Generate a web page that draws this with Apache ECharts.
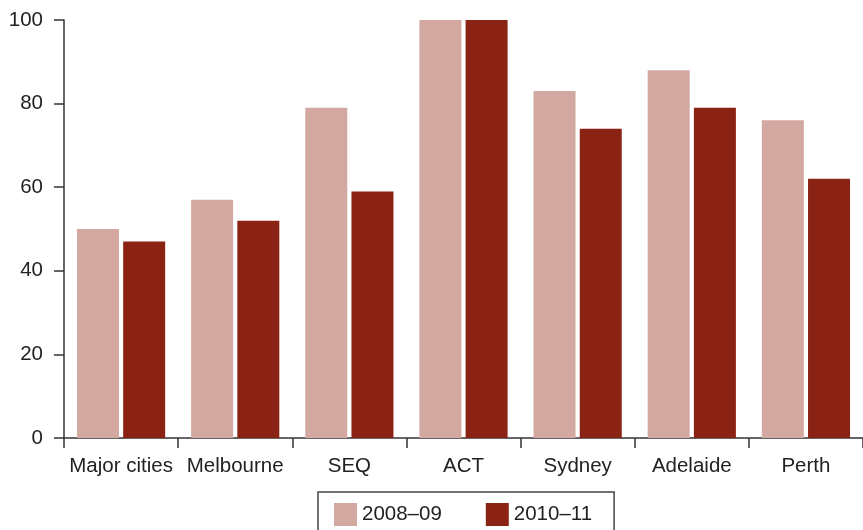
<!DOCTYPE html>
<html>
<head>
<meta charset="utf-8">
<script src="https://cdn.jsdelivr.net/npm/echarts@6/dist/echarts.min.js"></script>
<style>html,body{margin:0;padding:0;background:#fff}#c{width:863px;height:530px}</style>
</head>
<body>
<div id="c"></div>
<script>
const categories = ['Major cities', 'Melbourne', 'SEQ', 'ACT', 'Sydney', 'Adelaide', 'Perth'];
const series2008 = [50, 57, 79, 100, 83, 88, 76];
const series2010 = [47, 52, 59, 100, 74, 79, 62];
const seriesNames = ['2008–09', '2010–11'];
const yTicks = [0, 20, 40, 60, 80, 100];

const font = 'Liberation Sans, Arial, sans-serif';
const chart = echarts.init(document.getElementById('c'), null, {renderer: 'canvas'});
chart.setOption({
  animation: false,
  textStyle: {fontFamily: font},
  grid: {left: 64, top: 20, bottom: 92, right: -8, containLabel: false},
  legend: {
    left: 318, top: 492,
    data: seriesNames,
    icon: 'rect', itemWidth: 23, itemHeight: 23, itemGap: 44,
    padding: [11, 22, 20, 16],
    borderColor: '#444', borderWidth: 1.5,
    textStyle: {fontSize: 20.5, color: '#222', fontFamily: font}
  },
  xAxis: {
    type: 'category', data: categories,
    axisLine: {lineStyle: {color: '#333', width: 1.5}},
    axisTick: {show: true, length: 10, alignWithLabel: false, lineStyle: {color: '#333', width: 1.5}},
    axisLabel: {fontSize: 20.5, color: '#222', margin: 18, fontFamily: font, interval: 0}
  },
  yAxis: {
    type: 'value', min: yTicks[0], max: yTicks[yTicks.length - 1], interval: 20,
    axisLine: {show: true, lineStyle: {color: '#333', width: 1.5}},
    axisTick: {show: true, length: 10, lineStyle: {color: '#333', width: 1.5}},
    splitLine: {show: false},
    axisLabel: {fontSize: 20.5, color: '#222', margin: 21, fontFamily: font}
  },
  series: [
    {name: seriesNames[0], type: 'bar', data: series2008, barWidth: 42, barGap: '10%', itemStyle: {color: '#D2A8A0'}},
    {name: seriesNames[1], type: 'bar', data: series2010, barWidth: 42, itemStyle: {color: '#8B2315'}}
  ]
});
</script>
</body>
</html>
